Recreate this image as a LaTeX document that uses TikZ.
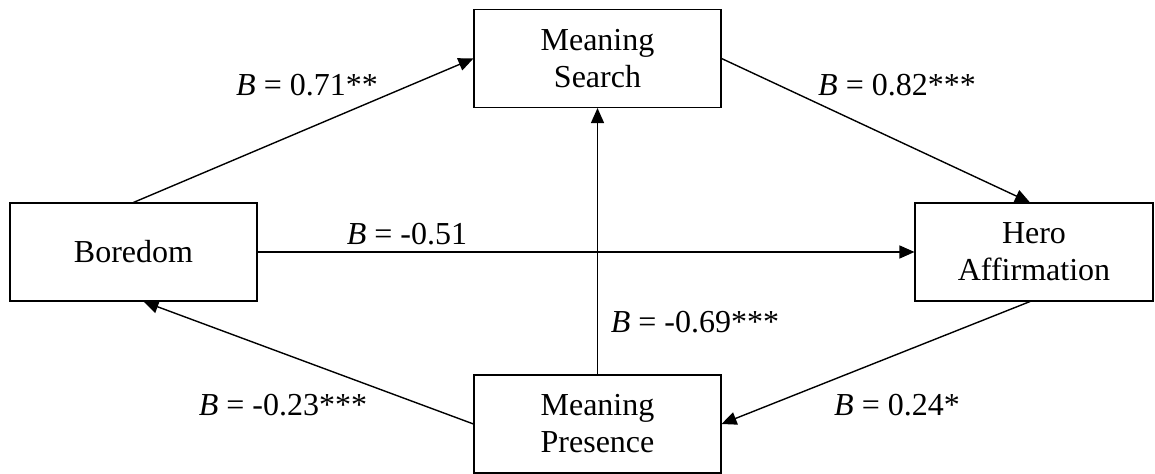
\documentclass[tikz,border=0pt]{standalone}
\usepackage{fontspec}
\setmainfont{Liberation Serif}
\usetikzlibrary{arrows.meta}

\begin{document}
\begin{tikzpicture} [x=0.5pt, y=-0.5pt,
 every node/.style = {font=\fontsize{16}{18.5}\selectfont},
 varbox/.style = {shape=rectangle, draw, line width=0.55pt, align=center,
 minimum width=123.5pt, minimum height=49pt, inner sep=0pt},
 path/.style = {draw, line width=0.7pt, -{Triangle[length=7.5pt, width=6.5pt]}}]
 \useasboundingbox (0,0) rectangle (1155,474);
 % variables
 \node (search) [varbox] at (597.5,58.5) {Meaning\\Search};
 \node (boredom) [varbox] at (133.5,252) {Boredom};
 \node (hero) [varbox, minimum width=119pt] at (1034,252) {Hero\\Affirmation};
 \node (presence) [varbox] at (597.5,424) {Meaning\\Presence};
 % paths
 \path [path] (boredom.north) -- (search.west);
 \path [path] (search.east) -- ([xshift=-2pt]hero.north);
 \path [path] (boredom.east) -- (hero.west);
 \path [path] (presence.north) -- (search.south);
 \path [path] (presence.west) -- ([xshift=5pt]boredom.south);
 \path [path] ([xshift=-2pt]hero.south) -- (presence.east);
 % coefficients
 \node (b1) at (307,85) {\textit{B} = 0.71**};
 \node (b2) at (897,85) {\textit{B} = 0.82***};
 \node (b3) at (407,234) {\textit{B} = -0.51};
 \node (b4) at (695,322) {\textit{B} = -0.69***};
 \node (b5) at (283,405) {\textit{B} = -0.23***};
 \node (b6) at (897,405) {\textit{B} = 0.24*};
\end{tikzpicture}
\end{document}
